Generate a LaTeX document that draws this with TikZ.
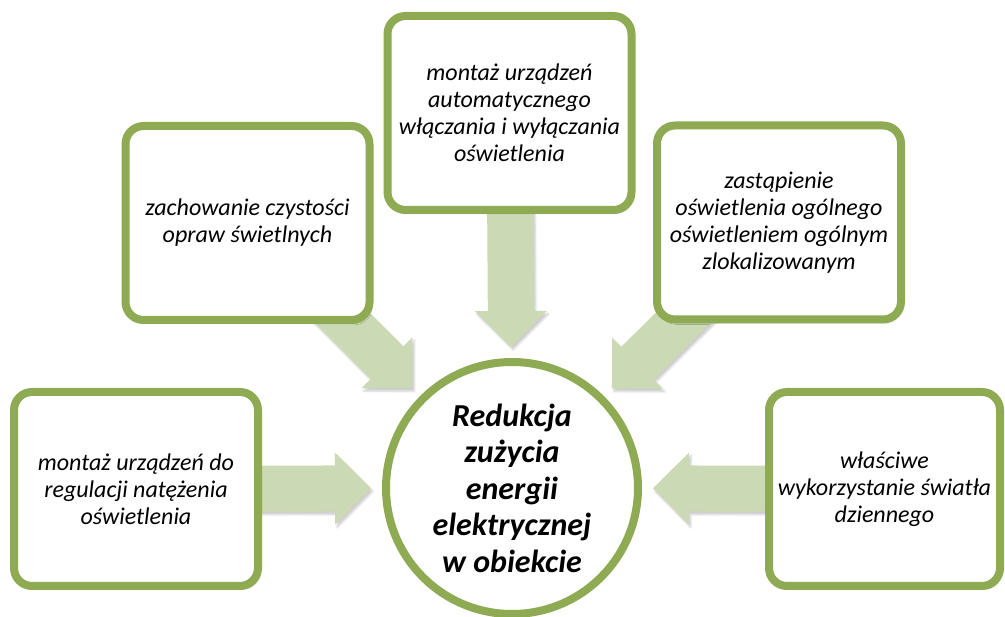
\documentclass[tikz,border=0pt]{standalone}
\usepackage{fontspec}
\setmainfont{Carlito}
\usepackage{tikz}
\usetikzlibrary{calc,backgrounds,shadows.blur}
\definecolor{BorderGreen}{HTML}{8EAA52}
\definecolor{SoftGreen}{HTML}{CBDAB5}
\tikzset{
  % Base box
  BX/.style={rectangle,rounded corners=18pt,
             minimum width=244pt,minimum height=194pt,inner sep=0pt,
             draw=BorderGreen,line width=8pt,fill=white,
             text centered,align=center,
             font=\itshape\fontsize{24}{27}\selectfont,
             blur shadow={shadow xshift=2pt,shadow yshift=-3pt,
                          shadow opacity=25,shadow blur steps=6}},
  % Centre circle
  KR/.style={circle,minimum size=252pt,inner sep=0pt,
             draw=BorderGreen,line width=8pt,fill=white,
             text centered,align=center,
             font=\bfseries\itshape\fontsize{32}{36.5}\selectfont},
  % Block arrow
  arrB/.style={fill=SoftGreen,
               blur shadow={shadow xshift=2pt,shadow yshift=-3pt,
                            shadow opacity=20,shadow blur steps=5}}
}

\begin{document}
\begin{tikzpicture}[x=1pt,y=-1pt]
  \useasboundingbox (0,0) rectangle (1005,617);

  \node[KR] (cel) at (512,488) {Redukcja\\zużycia\\energii\\elektrycznej\\w obiekcie};

  \node[BX] (auto)  at (509.5,113) {montaż urządzeń\\automatycznego\\włączania i wyłączania\\oświetlenia};
  \node[BX] (czyst) at (247.5,223) {zachowanie czystości\\opraw świetlnych};
  \node[BX] (zast)  at (779,222.5) {zastąpienie\\oświetlenia ogólnego\\oświetleniem ogólnym\\zlokalizowanym};
  \node[BX] (regul) at (136,489)   {montaż urządzeń do\\regulacji natężenia\\oświetlenia};
  \node[BX,minimum width=231pt] (dzien) at (884.5,489) {właściwe\\wykorzystanie światła\\dziennego};

  % block arrows behind the boxes
  \begin{scope}[on background layer]
    \foreach \z in {czyst,auto,zast,regul,dzien}{
      \coordinate (\z-T) at ($(cel.center)!141pt!(\z.center)$);
      \coordinate (\z-B) at ($(\z-T)!36pt!(\z.center)$);
      \fill[arrB] (\z-T) -- ($(\z-B)!36pt!90:(\z.center)$) -- ($(\z-B)!23pt!90:(\z.center)$)
        -- ($(\z.center)!23pt!-90:(\z-T)$) -- ($(\z.center)!23pt!90:(\z-T)$)
        -- ($(\z-B)!23pt!-90:(\z.center)$) -- ($(\z-B)!36pt!-90:(\z.center)$) -- cycle;
    }
  \end{scope}
\end{tikzpicture}
\end{document}
